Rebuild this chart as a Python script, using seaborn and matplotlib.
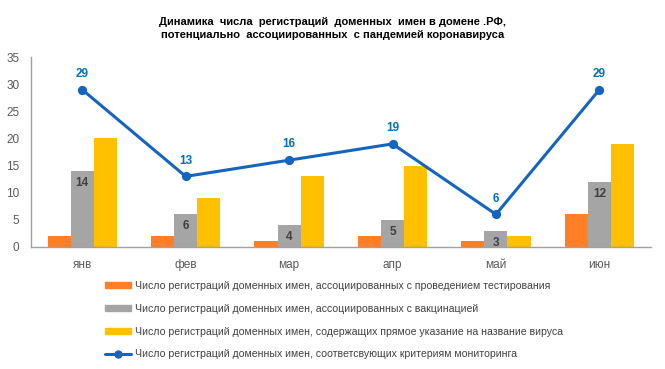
import matplotlib
matplotlib.use("Agg")
import matplotlib.pyplot as plt
import seaborn as sns
import pandas as pd
from matplotlib.patches import Patch
from matplotlib.lines import Line2D
from matplotlib import font_manager

months = ["янв", "фев", "мар", "апр", "май", "июн"]
testing = [2, 2, 1, 2, 1, 6]
vaccination = [14, 6, 4, 5, 3, 12]
virus_name = [20, 9, 13, 15, 2, 19]
monitoring = [29, 13, 16, 19, 6, 29]

series_names = [
    "Число регистраций доменных имен, ассоциированных с проведением тестирования",
    "Число регистраций доменных имен, ассоциированных с вакцинацией",
    "Число регистраций доменных имен, содержащих прямое указание на название вируса",
]
line_name = "Число регистраций доменных имен, соответсвующих критериям мониторинга"
title = ("Динамика  числа  регистраций  доменных  имен в домене .РФ,\n"
         "потенциально  ассоциированных  с пандемией коронавируса")

colors = ["#FF7F27", "#A5A5A5", "#FFC000"]
line_color = "#1565C0"

sns.set_theme(style="white")
avail = {f.name for f in font_manager.fontManager.ttflist}
fam = [f for f in ["Liberation Sans Narrow", "Liberation Sans", "DejaVu Sans"] if f in avail]
plt.rcParams["font.family"] = fam

df = pd.DataFrame({
    "month": months * 3,
    "value": testing + vaccination + virus_name,
    "series": [series_names[0]] * 6 + [series_names[1]] * 6 + [series_names[2]] * 6,
})

fig = plt.figure(figsize=(6.65, 3.69), dpi=100)
ax = fig.add_axes([0.046, 0.331, 0.933, 0.514])

sns.barplot(data=df, x="month", y="value", hue="series", palette=colors,
            width=0.67, gap=0, ax=ax, legend=False, saturation=1, errorbar=None,
            linewidth=0)

sns.pointplot(x=months, y=monitoring, color=line_color, markers="o",
              linestyles="-", ax=ax, markersize=5, linewidth=2.2, errorbar=None)

# labels on gray bars
gray_container = ax.containers[1]
for rect, v in zip(gray_container, vaccination):
    ax.text(rect.get_x() + rect.get_width() / 2, v - 1.1, str(v),
            ha="center", va="top", fontsize=8.5, fontweight="bold", color="#404040")

for i, v in enumerate(monitoring):
    ax.text(i, v + 1.8, str(v), ha="center", va="bottom", fontsize=8.5,
            fontweight="bold", color="#0070C0")

ax.set_xlim(-0.5, 5.5)
ax.set_ylim(0, 35)
ax.set_yticks(range(0, 36, 5))
ax.set_xlabel("")
ax.set_ylabel("")
ax.tick_params(axis="both", length=0, labelsize=8.5, colors="#595959")
ax.tick_params(axis="y", pad=8)
ax.tick_params(axis="x", pad=9)
for s in ["top", "right"]:
    ax.spines[s].set_visible(False)
for s in ["left", "bottom"]:
    ax.spines[s].set_color("#A0A0A0")
    ax.spines[s].set_linewidth(1.0)

fig.text(0.5, 0.923, title, ha="center", va="center", fontsize=8,
         fontweight="bold", color="#000000", linespacing=1.45)

handles = [Patch(facecolor=c, edgecolor=c) for c in colors]
handles.append(Line2D([0], [0], color=line_color, lw=2.2, marker="o", markersize=5))
leg = fig.legend(handles, series_names + [line_name], loc="upper left",
                 bbox_to_anchor=(0.158, 0.239), frameon=False, fontsize=7.6,
                 handlelength=2.5, handleheight=0.5, handletextpad=0.35,
                 labelspacing=1.22, borderaxespad=0, borderpad=0)
for t in leg.get_texts():
    t.set_color("#404040")

fig.savefig("out.png", dpi=100)
